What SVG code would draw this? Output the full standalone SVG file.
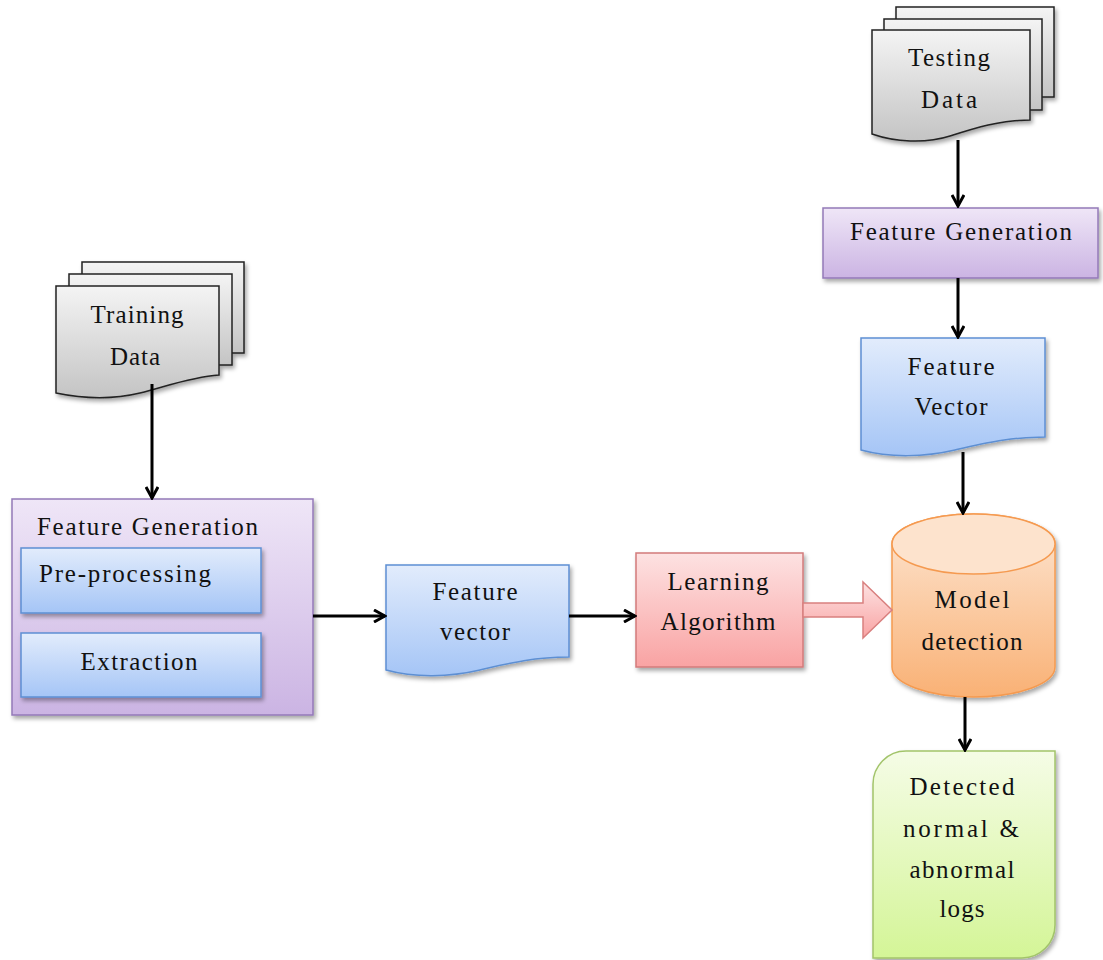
<svg xmlns="http://www.w3.org/2000/svg" width="1103" height="960" viewBox="0 0 1103 960" font-family="'Liberation Serif', 'DejaVu Serif', serif">
<defs>
<style>
text{font-family:'Liberation Serif','DejaVu Serif',serif;font-size:25px;fill:#111;text-anchor:middle}
.l{text-anchor:start}
.conn line{stroke:#000;stroke-width:3;fill:none}
.doc{stroke:#222;stroke-width:1.5}
</style>
<filter id="sh" x="-10%" y="-10%" width="130%" height="130%"><feDropShadow dx="2" dy="3" stdDeviation="2" flood-color="#000" flood-opacity="0.35"/></filter>
<linearGradient id="gGrey" x1="0" y1="0" x2="0" y2="1"><stop offset="0" stop-color="#f4f4f4"/><stop offset="1" stop-color="#c4c4c4"/></linearGradient>
<linearGradient id="gPurple" x1="0" y1="0" x2="0" y2="1"><stop offset="0" stop-color="#efe6f7"/><stop offset="1" stop-color="#cbb4e3"/></linearGradient>
<linearGradient id="gBlue" x1="0" y1="0" x2="0" y2="1"><stop offset="0" stop-color="#e2ecfc"/><stop offset="1" stop-color="#a5c5f6"/></linearGradient>
<linearGradient id="gRed" x1="0" y1="0" x2="0" y2="1"><stop offset="0" stop-color="#fde2e2"/><stop offset="1" stop-color="#f9a3a3"/></linearGradient>
<linearGradient id="gOrange" x1="0" y1="0" x2="0" y2="1"><stop offset="0" stop-color="#fde6d3"/><stop offset="1" stop-color="#f9b175"/></linearGradient>
<linearGradient id="gGreen" x1="0" y1="0" x2="0" y2="1"><stop offset="0" stop-color="#f5fce6"/><stop offset="1" stop-color="#d4f597"/></linearGradient>
<marker id="ah" viewBox="0 0 14 14" refX="12" refY="7" markerWidth="14" markerHeight="14" markerUnits="userSpaceOnUse" orient="auto"><path d="M1,1 L12,7 L1,13" fill="none" stroke="#000" stroke-width="3"/></marker>
</defs>

<g id="testing-data" filter="url(#sh)">
<rect class="doc" x="896" y="7" width="158" height="90" fill="url(#gGrey)"/>
<rect class="doc" x="884" y="19" width="158" height="91" fill="url(#gGrey)"/>
<path class="doc" d="M872,30 H1030 V120 C1000,120 975,128 950,136 C925,144 895,142 872,134 Z" fill="url(#gGrey)"/>
</g>
<g id="testing-data-label"><text x="949" y="66" textLength="82">Testing</text><text x="949" y="108" textLength="56">Data</text></g>

<g id="feature-generation-top">
<rect x="823" y="208" width="275" height="70" fill="url(#gPurple)" stroke="#9479b8" stroke-width="1.5" filter="url(#sh)"/>
<text x="961" y="240" textLength="222" lengthAdjust="spacing">Feature  Generation</text>
</g>

<g id="feature-vector-right">
<path d="M861,338 H1045 V437 C1010,437 985,443 955,450 C925,457 890,458 861,450 Z" fill="url(#gBlue)" stroke="#5d8fd3" stroke-width="1.5" filter="url(#sh)"/>
<text x="951" y="375" textLength="87">Feature</text>
<text x="951" y="415" textLength="73">Vector</text>
</g>

<g id="model-detection">
<path d="M892,544 V667 A81.5,30 0 0 0 1055,667 V544 A81.5,30 0 0 0 892,544 Z" fill="url(#gOrange)" stroke="#f59a50" stroke-width="1.5" filter="url(#sh)"/>
<ellipse cx="973.5" cy="544" rx="81.5" ry="30" fill="#fde3cd" stroke="#f59a50" stroke-width="1.5"/>
<text x="972" y="608" textLength="75">Model</text>
<text x="972" y="650" textLength="101">detection</text>
</g>

<g id="detected-logs">
<path d="M906,751 H1055 V925 A33,33 0 0 1 1022,958 H873 V784 A33,33 0 0 1 906,751 Z" fill="url(#gGreen)" stroke="#a2c46a" stroke-width="1.5" filter="url(#sh)"/>
<text x="962" y="795" textLength="105">Detected</text>
<text x="961" y="837" textLength="116">normal  &amp;</text>
<text x="962" y="878" textLength="105">abnormal</text>
<text x="962" y="917" textLength="45">logs</text>
</g>

<g id="training-data" filter="url(#sh)">
<rect class="doc" x="82" y="262" width="162" height="91" fill="url(#gGrey)"/>
<rect class="doc" x="69" y="274" width="163" height="91" fill="url(#gGrey)"/>
<path class="doc" d="M56,286 H219 V375 C190,377 165,387 140,393 C115,399 85,399 56,393 Z" fill="url(#gGrey)"/>
</g>
<g id="training-data-label"><text x="137" y="323" textLength="93">Training</text><text x="135" y="365" textLength="50">Data</text></g>

<g id="feature-generation-left">
<rect x="12" y="499" width="301" height="216" fill="url(#gPurple)" stroke="#9479b8" stroke-width="1.5" filter="url(#sh)"/>
<text class="l" x="37" y="535" textLength="221" lengthAdjust="spacing">Feature  Generation</text>
</g>
<g id="pre-processing">
<rect x="21" y="548" width="240" height="65" fill="url(#gBlue)" stroke="#5d8fd3" stroke-width="1.5" filter="url(#sh)"/>
<text class="l" x="39" y="582" textLength="172">Pre-processing</text>
</g>
<g id="extraction">
<rect x="21" y="633" width="240" height="64" fill="url(#gBlue)" stroke="#5d8fd3" stroke-width="1.5" filter="url(#sh)"/>
<text x="139" y="670" textLength="117">Extraction</text>
</g>

<g id="feature-vector-mid">
<path d="M386,565 H569 V657 C535,657 510,663 480,670 C450,677 415,678 386,670 Z" fill="url(#gBlue)" stroke="#5d8fd3" stroke-width="1.5" filter="url(#sh)"/>
<text x="475" y="600" textLength="85">Feature</text>
<text x="475" y="640" textLength="70">vector</text>
</g>

<g id="learning-algorithm">
<rect x="636" y="553" width="167" height="114" fill="url(#gRed)" stroke="#d27b7b" stroke-width="1.5" filter="url(#sh)"/>
<text x="718" y="590" textLength="101">Learning</text>
<text x="718" y="630" textLength="115">Algorithm</text>
</g>

<g id="connectors" class="conn">
<line x1="958" y1="140" x2="958" y2="206" marker-end="url(#ah)"/>
<line x1="958" y1="278" x2="958" y2="337" marker-end="url(#ah)"/>
<line x1="963" y1="452" x2="963" y2="513" marker-end="url(#ah)"/>
<line x1="965" y1="697" x2="965" y2="750" marker-end="url(#ah)"/>
<line x1="152" y1="384" x2="152" y2="498" marker-end="url(#ah)"/>
<line x1="313" y1="616" x2="385" y2="616" marker-end="url(#ah)"/>
<line x1="569" y1="616" x2="635" y2="616" marker-end="url(#ah)"/>
<path d="M803,603 H863 V582 L892,610 L863,638 V617 H803 Z" fill="url(#gRed)" stroke="#d9807f" stroke-width="1.5"/>
</g>
</svg>
